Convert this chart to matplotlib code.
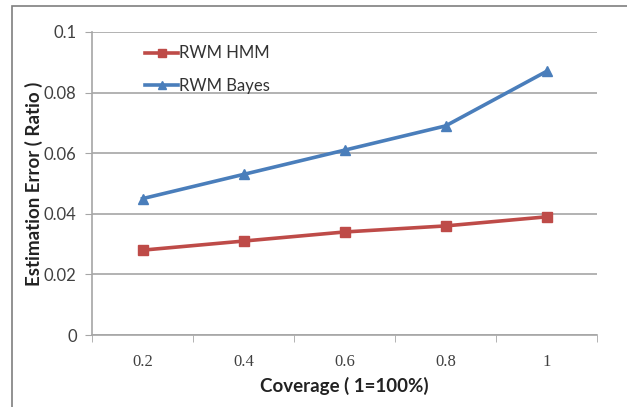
import numpy as np
import matplotlib
matplotlib.use('Agg')
import matplotlib.pyplot as plt
from matplotlib.patches import Rectangle

coverage = ['0.2', '0.4', '0.6', '0.8', '1']
rwm_hmm = [0.028, 0.031, 0.034, 0.036, 0.039]
rwm_bayes = [0.045, 0.053, 0.061, 0.069, 0.087]
yticks = [0, 0.02, 0.04, 0.06, 0.08, 0.1]
ytick_labels = ['0', '0.02', '0.04', '0.06', '0.08', '0.1']

plt.rcParams['font.family'] = ['Lato', 'DejaVu Sans']

fig = plt.figure(figsize=(6.27, 4.07), dpi=100)
# outer chart border (cropped on right / bottom)
fig.patches.append(Rectangle((12 / 627, -0.05), 1.1, (407 - 6) / 407 + 0.05,
                             transform=fig.transFigure, fill=False,
                             edgecolor='#7f7f7f', linewidth=1.2))

ax = fig.add_axes([92 / 627, 72 / 407, 505 / 627, 303 / 407])
x = np.arange(len(coverage))

ax.plot(x, rwm_hmm, color='#BE4B48', marker='s', markersize=7.5, linewidth=2.6, label='RWM HMM')
ax.plot(x, rwm_bayes, color='#4A7EBB', marker='^', markersize=7.5, linewidth=2.6, label='RWM Bayes')

ax.set_xlim(-0.5, len(coverage) - 0.5)
ax.set_ylim(0, 0.1)
ax.set_yticks(yticks)
ax.set_yticklabels(ytick_labels, fontsize=12, color='#404040')
ax.yaxis.grid(True, color='#a6a6a6', linewidth=1.2)
ax.set_axisbelow(True)

ax.set_xticks(x)
ax.set_xticklabels(coverage, fontsize=12, family='Liberation Serif', color='#404040')
ax.set_xticks(np.arange(len(coverage) + 1) - 0.5, minor=True)
ax.tick_params(axis='x', which='major', length=0, pad=14)
ax.tick_params(axis='x', which='minor', length=5, color='#a6a6a6', direction='out')
ax.tick_params(axis='y', length=5, color='#a6a6a6', direction='out', pad=6)

for s in ['top', 'right']:
    ax.spines[s].set_visible(False)
for s in ['left', 'bottom']:
    ax.spines[s].set_color('#a6a6a6')
    ax.spines[s].set_linewidth(1.2)

ax.set_xlabel('Coverage ( 1=100%)', fontsize=13.5, fontweight='bold', labelpad=5, color='#222222')
ax.set_ylabel('Estimation Error ( Ratio )', fontsize=13.5, fontweight='bold', labelpad=1, color='#222222')

ax.legend(loc='upper left', bbox_to_anchor=(0.075, 1.005), frameon=False, fontsize=12,
          handlelength=2.0, labelspacing=1.0, handletextpad=0.05, markerscale=0.85,
          labelcolor='#333333')

fig.savefig('out.png', dpi=100)
